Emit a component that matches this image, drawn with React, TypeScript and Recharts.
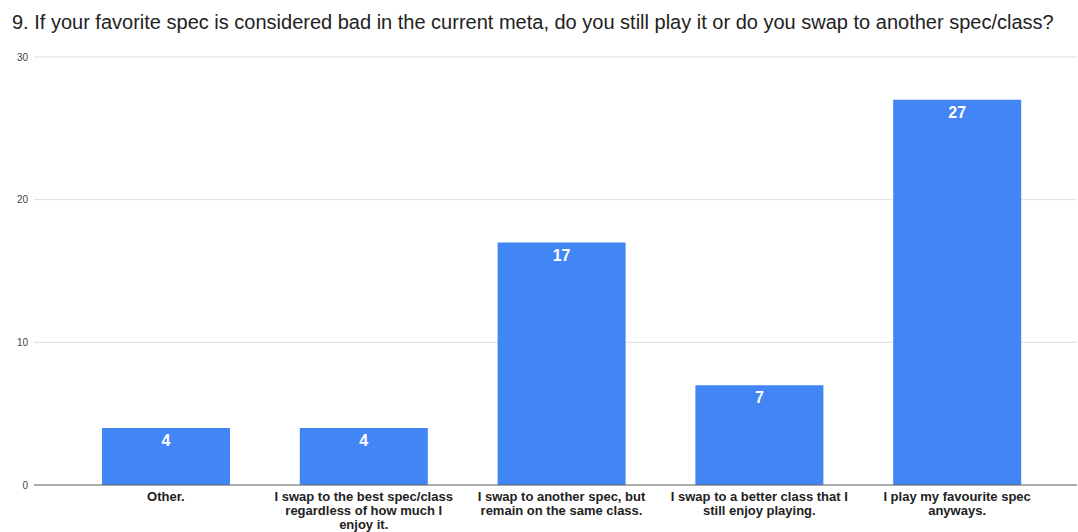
import React from "react";
import { BarChart, Bar, XAxis, YAxis, CartesianGrid, LabelList, ReferenceLine } from "recharts";

// answer categories (\n marks where the original label wraps)
const categories = [
  "Other.",
  "I swap to the best spec/class\nregardless of how much I\nenjoy it.",
  "I swap to another spec, but\nremain on the same class.",
  "I swap to a better class that I\nstill enjoy playing.",
  "I play my favourite spec\nanyways.",
];
const counts = [4, 4, 17, 7, 27];
const yTicks = [0, 10, 20, 30];

const title =
  "9. If your favorite spec is considered bad in the current meta, do you still play it or do you swap to another spec/class?";

const data = categories.map((c, i) => ({ name: c, value: counts[i] }));

const FONT = "'Liberation Sans', Arial, sans-serif";

const CategoryTick = (props: any) => {
  const { x, y, payload } = props;
  const lines = String(payload.value).split("\n");
  return (
    <g transform={`translate(${x},${y})`}>
      {lines.map((line, i) => (
        <text
          key={i}
          x={0}
          y={8 + i * 14}
          textAnchor="middle"
          fill="#222"
          fontSize={13}
          fontWeight="bold"
          fontFamily={FONT}
        >
          {line}
        </text>
      ))}
    </g>
  );
};

export default function App() {
  return (
    <div
      style={{
        position: "absolute",
        left: 0,
        top: 0,
        width: 1078,
        height: 532,
        background: "#fff",
        fontFamily: FONT,
      }}
    >
      <div
        style={{
          position: "absolute",
          left: 12,
          top: 11,
          fontSize: 20,
          lineHeight: "23px",
          color: "#222",
          whiteSpace: "nowrap",
        }}
      >
        {title}
      </div>
      <BarChart
        width={1078}
        height={532}
        data={data}
        margin={{ top: 57, right: 1, bottom: 0, left: 0 }}
        barCategoryGap={35}
      >
        <CartesianGrid vertical={false} stroke="#dedede" />
        <XAxis
          dataKey="name"
          axisLine={false}
          tickLine={false}
          interval={0}
          padding={{ left: 33, right: 21 }}
          tick={<CategoryTick />}
          height={47}
        />
        <YAxis
          width={34}
          domain={[0, 30]}
          ticks={yTicks}
          axisLine={false}
          tickLine={false}
          tickSize={0}
          tickMargin={6}
          tick={{ fill: "#444", fontSize: 10, fontFamily: FONT }}
        />
        <ReferenceLine y={0} stroke="#666" strokeWidth={1} />
        <Bar dataKey="value" fill="#4285F4" isAnimationActive={false}>
          <LabelList
            dataKey="value"
            position="insideTop"
            offset={7}
            fill="#fff"
            fontSize={16}
            fontWeight="bold"
            fontFamily={FONT}
          />
        </Bar>
      </BarChart>
    </div>
  );
}
